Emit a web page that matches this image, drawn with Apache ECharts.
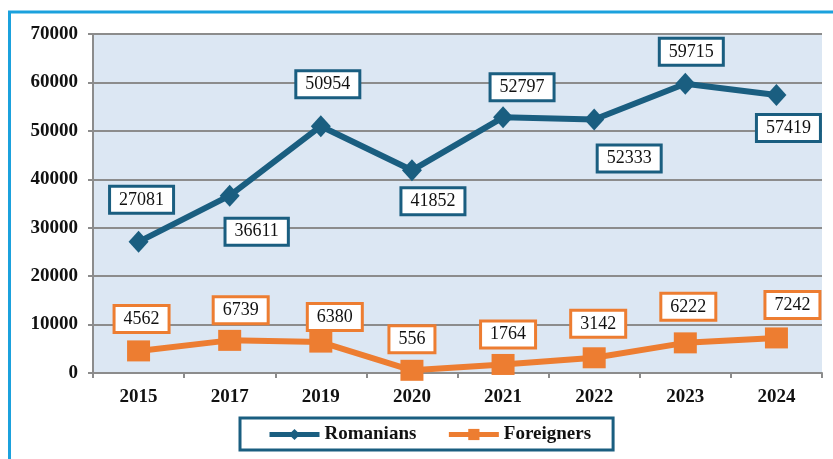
<!DOCTYPE html>
<html>
<head>
<meta charset="utf-8">
<script src="https://cdn.jsdelivr.net/npm/echarts@6/dist/echarts.min.js"></script>
<style>
  html, body { margin: 0; padding: 0; background: #fff; }
  #chart { width: 833px; height: 459px; }
</style>
</head>
<body>
<div id="chart"></div>
<script>
const years = ['2015', '2017', '2019', '2020', '2021', '2022', '2023', '2024']
const romanians = [27081, 36611, 50954, 41852, 52797, 52333, 59715, 57419]
const foreigners = [4562, 6739, 6380, 556, 1764, 3142, 6222, 7242]

// label offsets from the point (box centre), px
const romOffsets = [[3, -42], [27, 36], [7, -42], [21, 31], [19, -30], [35, 39], [6, -32], [12, 33]]
const forOffsets = [[3, -32], [11, -30], [14, -25], [0, -31], [5, -30], [4, -34], [3, -36], [16, -33]]

const blue = '#1a5e80'
const orange = '#ed7d31'
const serif = 'Liberation Serif'

function labelStyle(color) {
  return {
    show: true, position: 'inside', fontFamily: serif, fontSize: 18, color: '#111',
    backgroundColor: '#fff', borderColor: color, borderWidth: 3, padding: [4, 8, 2, 8]
  }
}

const chart = echarts.init(document.getElementById('chart'))
chart.setOption({
  animation: false,
  textStyle: { fontFamily: serif },
  graphic: [{
    type: 'rect', shape: { x: 9.5, y: 12, width: 900, height: 600 },
    style: { fill: 'none', stroke: '#1ba1dd', lineWidth: 3 }, silent: true
  }],
  grid: { left: 93, right: 11, top: 34, bottom: 86, show: true, backgroundColor: '#dce7f3', borderWidth: 0 },
  legend: {
    left: 240, top: 418, orient: 'horizontal',
    borderColor: blue, borderWidth: 3, padding: [7, 22, 6, 27], itemGap: 30,
    itemWidth: 50, itemHeight: 14,
    lineStyle: { width: 5 },
    textStyle: { fontFamily: serif, fontWeight: 'bold', fontSize: 19, color: '#111' },
    data: ['Romanians', 'Foreigners']
  },
  xAxis: {
    type: 'category', data: years, boundaryGap: true,
    axisLine: { lineStyle: { color: '#8c8c8c', width: 2 } },
    axisTick: { show: true, length: 5, lineStyle: { color: '#8c8c8c', width: 2 } },
    axisLabel: { margin: 15, fontFamily: serif, fontWeight: 'bold', fontSize: 19, color: '#111' }
  },
  yAxis: {
    type: 'value', min: 0, max: 70000, interval: 10000,
    axisLine: { show: true, lineStyle: { color: '#8c8c8c', width: 2 } },
    axisTick: { show: true, length: 5, lineStyle: { color: '#8c8c8c', width: 2 } },
    splitLine: { lineStyle: { color: '#8c8c8c', width: 2 } },
    axisLabel: { margin: 15, fontFamily: serif, fontWeight: 'bold', fontSize: 19, color: '#111', formatter: v => String(v) }
  },
  series: [
    {
      name: 'Romanians', type: 'line', z: 3,
      data: romanians.map((v, i) => ({ value: v, label: Object.assign(labelStyle(blue), { offset: romOffsets[i] }) })),
      symbol: 'diamond', symbolSize: [20, 22], lineStyle: { color: blue, width: 6 },
      itemStyle: { color: blue }
    },
    {
      name: 'Foreigners', type: 'line', z: 4,
      data: foreigners.map((v, i) => ({ value: v, label: Object.assign(labelStyle(orange), { offset: forOffsets[i] }) })),
      symbol: 'rect', symbolSize: [23, 21], lineStyle: { color: orange, width: 6 },
      itemStyle: { color: orange }
    }
  ]
})
</script>
</body>
</html>
